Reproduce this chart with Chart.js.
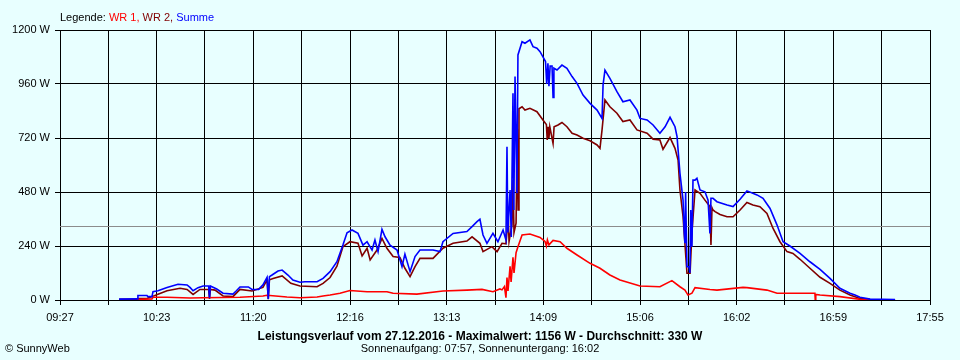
<!DOCTYPE html>
<html>
<head>
<meta charset="utf-8">
<script src="https://cdn.jsdelivr.net/npm/chart.js@4/dist/chart.umd.min.js"></script>
<style>
  html,body{margin:0;padding:0;background:#E8FFFF;}
  #wrap{position:relative;width:960px;height:360px;background:#E8FFFF;overflow:hidden;}
  canvas{position:absolute;left:0;top:0;}
  .t{position:absolute;font-family:'Liberation Sans',Arial,sans-serif;font-size:11px;line-height:13px;color:#000;white-space:nowrap;}
</style>
</head>
<body>
<div id="wrap">
  <canvas id="c" width="960" height="360"></canvas>
  <div class="t" id="legend" style="left:60px;top:11px;"></div>
  <div class="t" id="title" style="left:0;width:960px;text-align:center;top:329px;font-weight:bold;font-size:12px;line-height:14px;"></div>
  <div class="t" id="sub" style="left:0;width:960px;text-align:center;top:342px;"></div>
  <div class="t" id="copy" style="left:5px;top:342px;"></div>
</div>
<script>
// ---- data (time in minutes after midnight, power in W) ----
const xTickLabels = ['09:27','10:23','11:20','12:16','13:13','14:09','15:06','16:02','16:59','17:55'];
const xMin = 567;   // 09:27
const xMax = 1075;  // 17:55
const yTickMax = 1200;
const yStep = 240;
const average = 330;
const maximum = 1156;

const seriesNames = ['WR 1', 'WR 2', 'Summe'];
const seriesColors = ['#FF0000', '#800000', '#0000FF'];

const summeTime = [601.5,612.0,612.5,617.8,618.3,620.7,621.3,624.2,629.5,635.9,641.2,642.9,644.7,647.6,650.5,653.8,654.3,654.8,658.5,662.2,668.0,670.0,672.1,677.0,679.1,683.0,685.5,687.9,688.6,689.3,690.8,694.3,696.7,700.1,703.0,707.1,710.0,717.1,720.6,724.7,728.7,732.2,734.6,737.5,741.0,743.9,746.3,749.2,750.9,752.7,755.0,756.8,759.7,763.8,766.7,768.4,771.4,774.3,777.2,784.8,788.9,790.6,796.5,804.6,807.6,810.5,812.2,814.0,816.3,819.8,822.7,825.7,827.4,828.0,828.5,829.8,830.5,831.5,832.0,832.7,833.8,834.4,836.8,838.5,841.4,843.2,845.5,847.3,849.0,850.5,851.2,851.9,852.5,853.2,854.3,854.9,855.4,857.2,860.1,863.0,866.0,868.9,872.4,876.5,880.6,883.5,884.1,885.2,888.1,892.2,895.7,899.8,903.9,905.7,909.8,913.3,917.3,920.3,923.2,926.1,927.3,929.0,930.8,931.5,931.9,932.3,933.1,934.3,934.8,935.3,936.0,936.6,937.8,938.9,940.7,943.6,945.4,946.5,947.1,948.3,950.6,956.5,960.0,964.1,968.1,974.0,977.5,981.6,985.7,989.2,993.2,999.1,1004.9,1010.8,1016.6,1022.4,1028.3,1031.2,1034.1,1040.0,1054.6];
const summeW = [4,5,20,20,15,15,37,41,56,70,67,56,41,55,62,62,10,62,49,30,26,41,58,58,47,47,67,101,5,104,111,129,133,111,89,79,81,81,96,126,170,244,299,311,296,244,259,222,267,215,314,281,244,222,148,204,126,193,222,222,215,259,296,304,326,348,359,289,252,296,259,311,267,681,300,489,280,919,400,993,474,1089,1148,1141,1156,1126,1119,1104,1081,1060,960,1052,950,1040,1040,900,1030,1022,1044,1030,993,963,911,874,844,807,956,1022,985,926,881,889,844,807,800,778,741,770,812,770,726,563,444,300,252,480,148,148,120,400,237,533,533,541,489,481,444,296,452,452,437,422,415,448,485,467,452,407,333,259,240,207,170,136,96,52,30,22,12,4,2];

const wr2Time = [601.5,612.0,612.5,617.8,620.7,624.2,629.5,637.1,641.2,644.7,648.7,653.8,654.3,654.8,657.5,662.2,668.0,672.1,679.1,685.5,687.9,688.6,689.3,691.4,696.7,701.8,707.1,717.1,720.6,724.7,728.7,732.2,736.3,741.0,743.4,746.3,748.1,752.1,755.0,757.9,761.5,765.5,768.4,771.4,774.3,777.2,784.8,790.6,796.5,804.6,807.6,812.2,814.0,819.2,822.2,825.1,827.4,828.3,828.6,829.2,830.9,831.5,832.1,833.3,834.0,834.5,835.0,836.8,838.5,841.4,845.5,849.0,851.0,851.5,852.0,852.5,853.0,854.9,855.5,857.8,860.1,863.0,866.0,868.9,872.4,876.5,880.6,882.3,883.5,885.2,888.1,892.2,895.7,899.8,903.9,909.8,913.3,917.3,919.1,923.2,926.1,927.9,929.0,930.8,931.9,933.1,934.9,936.0,937.8,940.7,943.6,946.5,947.1,947.7,948.3,949.5,952.4,956.5,960.0,964.1,968.1,971.6,975.7,979.8,983.3,987.4,991.5,995.0,999.1,1004.9,1010.8,1016.6,1022.4,1028.3,1034.1,1040.0,1054.6];
const wr2W = [3,3,7,7,15,26,41,52,47,25,47,47,5,47,44,18,15,47,40,56,89,3,90,96,107,74,62,59,74,100,150,237,259,252,196,230,178,222,274,230,193,189,141,104,148,185,185,230,252,262,281,252,215,237,215,252,250,330,400,260,333,533,300,341,760,400,850,859,844,852,837,800,780,711,770,720,770,696,770,778,789,770,741,733,719,708,689,674,756,889,859,830,793,800,756,741,715,711,670,722,674,622,489,370,250,119,119,300,489,474,444,415,244,410,400,393,380,370,370,400,433,422,415,385,319,259,215,207,181,141,101,74,44,22,7,2,1];

const wr1Time = [612.0,620.7,621.3,629.5,642.9,650.5,672.1,685.5,687.9,699.5,707.1,717.1,720.6,724.7,730.5,736.3,746.3,757.9,761.5,775.4,790.6,804.6,813.4,819.8,823.9,825.1,826.5,827.4,828.0,828.6,829.8,830.4,831.5,832.1,833.3,834.4,836.8,841.4,847.3,850.2,851.0,851.6,852.5,854.9,859.0,863.0,868.9,876.5,882.3,888.1,894.0,905.7,917.3,924.3,929.0,931.9,933.7,936.0,937.8,946.5,950.6,965.8,968.1,979.8,985.7,1004.9,1007.8,1008.0,1008.3,1010.8,1022.4,1034.1,1040.0,1054.6];
const wr1W = [2,5,12,12,9,10,12,18,21,13,10,13,18,22,30,42,37,37,30,26,40,44,47,37,49,45,60,10,100,40,150,80,190,120,210,237,289,293,278,260,240,267,245,265,259,230,200,163,141,111,89,62,59,86,59,44,22,30,55,47,44,56,55,44,30,30,30,0,25,22,15,3,1,1];

// ---- build ----
function pts(t, v){ return t.map((x,i)=>({x:x, y:v[i]})); }
const xTickValues = [];
for (let i = 0; i <= 18; i++) xTickValues.push(xMin + i * (xMax - xMin) / 18);

document.getElementById('legend').innerHTML =
  'Legende: <span style="color:'+seriesColors[0]+'">'+seriesNames[0]+',</span> ' +
  '<span style="color:'+seriesColors[1]+'">'+seriesNames[1]+',</span> ' +
  '<span style="color:'+seriesColors[2]+'">'+seriesNames[2]+'</span>';
document.getElementById('title').textContent =
  'Leistungsverlauf vom 27.12.2016 - Maximalwert: ' + maximum + ' W - Durchschnitt: ' + average + ' W';
document.getElementById('sub').textContent = 'Sonnenaufgang: 07:57, Sonnenuntergang: 16:02';
document.getElementById('copy').textContent = '\u00A9 SunnyWeb';

const avgLine = {
  id: 'avgLine',
  beforeDatasetsDraw(chart){
    const ctx = chart.ctx, y = Math.round(chart.scales.y.getPixelForValue(average)) + 0.5;
    const a = chart.chartArea;
    ctx.save();
    ctx.strokeStyle = '#8C8C8C';
    ctx.lineWidth = 1;
    ctx.beginPath(); ctx.moveTo(a.left, y); ctx.lineTo(a.right, y); ctx.stroke();
    ctx.restore();
  }
};

Chart.defaults.font.family = "'Liberation Sans', Arial, sans-serif";
Chart.defaults.font.size = 11;
Chart.defaults.color = '#000';

new Chart(document.getElementById('c'), {
  type: 'line',
  data: {
    datasets: [
      {label: seriesNames[2], data: pts(summeTime, summeW), borderColor: seriesColors[2], borderWidth: 1.6, order: 0},
      {label: seriesNames[0], data: pts(wr1Time, wr1W), borderColor: seriesColors[0], borderWidth: 1.6, order: 1},
      {label: seriesNames[1], data: pts(wr2Time, wr2W), borderColor: seriesColors[1], borderWidth: 1.6, order: 2}
    ]
  },
  options: {
    responsive: false,
    animation: false,
    events: [],
    layout: {padding: {left: 0, right: 30, top: 30, bottom: 0}},
    elements: {point: {radius: 0}, line: {tension: 0, borderJoinStyle: 'miter'}},
    plugins: {legend: {display: false}, tooltip: {enabled: false}, title: {display: false}},
    scales: {
      x: {
        type: 'linear', min: xMin, max: xMax,
        afterFit(s){ s.height = 60; },
        afterBuildTicks(s){ s.ticks = xTickValues.map(v => ({value: v})); },
        ticks: {
          autoSkip: false, maxRotation: 0, minRotation: 0, padding: 6,
          callback: (v, i) => (i % 2 === 0 ? xTickLabels[i / 2] : '')
        },
        grid: {color: '#000', lineWidth: 1, tickLength: 5, drawTicks: true},
        border: {display: true, color: '#000', width: 1}
      },
      y: {
        min: 0, max: yTickMax,
        afterFit(s){ s.width = 60; },
        ticks: {stepSize: yStep, padding: 5, callback: v => v + ' W'},
        grid: {color: '#000', lineWidth: 1, tickLength: 5, drawTicks: true},
        border: {display: true, color: '#000', width: 1}
      }
    }
  },
  plugins: [avgLine]
});
</script>
</body>
</html>
